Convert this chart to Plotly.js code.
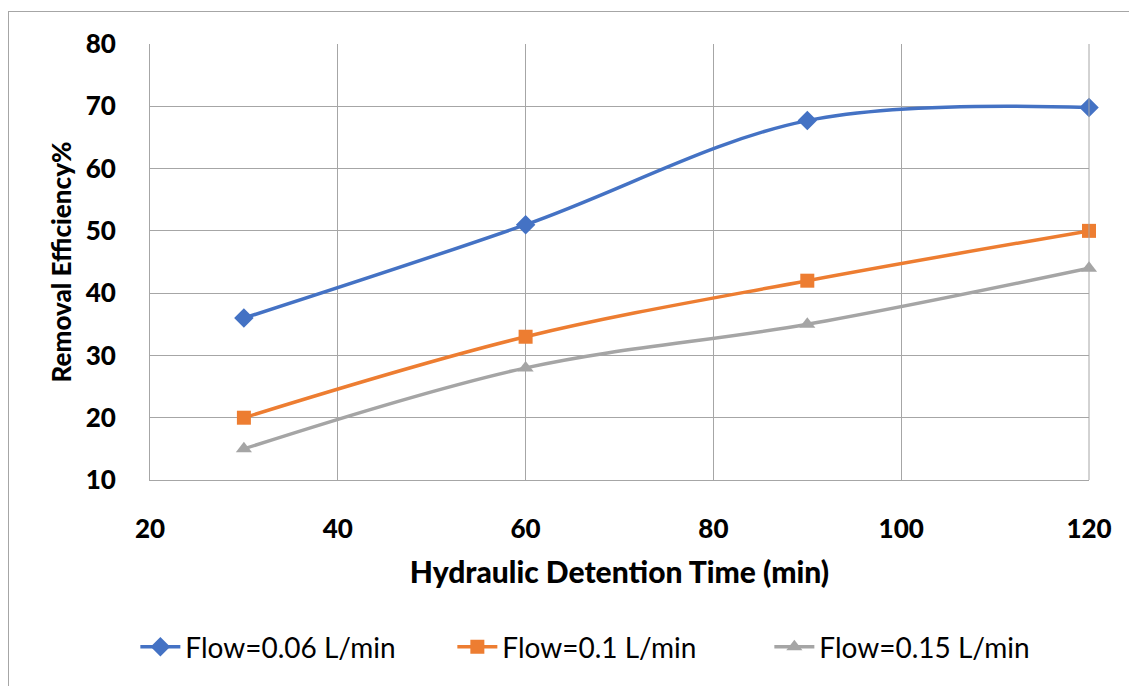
<!DOCTYPE html>
<html>
<head>
<meta charset="utf-8">
<script src="https://cdn.plot.ly/plotly-3.0.1.min.js"></script>
<style>
html,body{margin:0;padding:0;background:#fff;}
#wrap{position:relative;width:1129px;height:686px;}
#chart{width:1129px;height:686px;}
#frame{position:absolute;left:8px;top:11px;width:1125px;height:680px;border:1px solid #a6a6a6;pointer-events:none;}
</style>
</head>
<body>
<div id="wrap"><div id="chart"></div><div id="frame"></div></div>
<script>
const hdt = [30, 60, 90, 120];
const flow006 = [36, 51, 67.7, 69.8];
const flow01 = [20, 33, 42, 50];
const flow015 = [15, 28, 35, 44];
const seriesNames = ["Flow=0.06 L/min", "Flow=0.1 L/min", "Flow=0.15 L/min"];

const F = "Lato, 'Open Sans', sans-serif";
function tr(y, name, color, sym, size) {
  return {x: hdt, y: y, name: name, type: 'scatter', mode: 'lines+markers', cliponaxis: false,
    line: {color: color, width: 3.5, shape: 'spline', smoothing: 1},
    marker: {color: color, symbol: sym, size: size}};
}
const data = [
  tr(flow006, seriesNames[0], '#4472C4', 'diamond', 15),
  tr(flow01, seriesNames[1], '#ED7D31', 'square', 14),
  tr(flow015, seriesNames[2], '#A5A5A5', 'triangle-up', 14)
];
const layout = {
  width: 1129, height: 686,
  margin: {l: 150, r: 40, t: 44, b: 206},
  paper_bgcolor: '#fff', plot_bgcolor: '#fff',
  font: {family: F, color: '#000'},
  showlegend: true,
  legend: {orientation: 'h', x: -0.0156, xanchor: 'left', y: -0.383, yanchor: 'middle',
    font: {size: 28, family: F}, entrywidth: 262, entrywidthmode: 'pixels', itemwidth: 40, traceorder: 'normal'},
  xaxis: {range: [20, 120], dtick: 20, tick0: 20, showgrid: true, gridcolor: '#a6a6a6', gridwidth: 1,
    zeroline: false, showline: true, linecolor: '#a6a6a6', mirror: false, ticks: '',
    ticklabelstandoff: 26,
    tickfont: {size: 26, family: F, weight: 900},
    title: {text: 'Hydraulic Detention Time (min)', font: {size: 30, family: F, weight: 900}, standoff: 18}},
  yaxis: {range: [10, 80], dtick: 10, tick0: 10, showgrid: true, gridcolor: '#a6a6a6', gridwidth: 1,
    zeroline: false, showline: true, linecolor: '#a6a6a6', ticks: '',
    ticklabelstandoff: 28,
    tickfont: {size: 26, family: F, weight: 900},
    title: {text: 'Removal Efficiency%', font: {size: 26, family: F, weight: 900}, standoff: 6}},
  shapes: [
    {type: 'line', xref: 'paper', yref: 'paper', x0: 1, x1: 1, y0: 0, y1: 1, line: {color: '#a6a6a6', width: 1}}
  ]
};
Plotly.newPlot('chart', data, layout, {displayModeBar: false, staticPlot: true});
</script>
</body>
</html>
